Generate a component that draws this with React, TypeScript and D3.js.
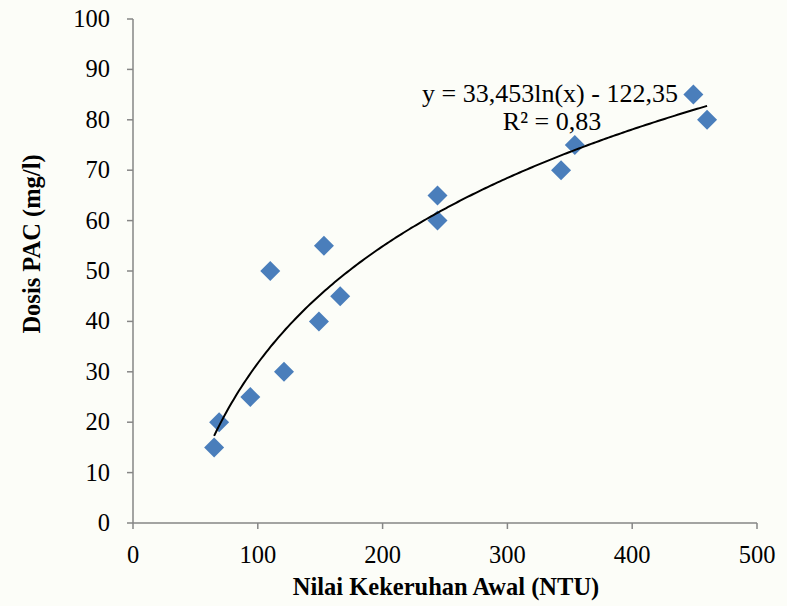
import React from "react";
import * as d3 from "d3";

const turbidity = [65, 69, 94, 121, 110, 153, 149, 166, 244, 244, 343, 354, 449, 460];
const dose = [15, 20, 25, 30, 50, 55, 40, 45, 65, 60, 70, 75, 85, 80];
const xTicks = [0, 100, 200, 300, 400, 500];
const yTicks = [0, 10, 20, 30, 40, 50, 60, 70, 80, 90, 100];
const trendA = 33.453;
const trendB = -122.35;
const equationText = "y = 33,453ln(x) - 122,35";
const r2Text = "R² = 0,83";
const xTitle = "Nilai Kekeruhan Awal (NTU)";
const yTitle = "Dosis PAC (mg/l)";

export default function App() {
  const W = 787, H = 606;
  const x = d3.scaleLinear().domain([0, 500]).range([133, 757]);
  const y = d3.scaleLinear().domain([0, 100]).range([523, 19]);
  const xMin = d3.min(turbidity) as number;
  const xMax = d3.max(turbidity) as number;
  const trendPts = d3.range(0, 201).map((i) => {
    const xv = xMin + ((xMax - xMin) * i) / 200;
    return [xv, trendA * Math.log(xv) + trendB] as [number, number];
  });
  const line = d3.line<[number, number]>().x((d) => x(d[0])).y((d) => y(d[1]));
  const diamond = (cx: number, cy: number, r: number) =>
    `M${cx},${cy - r}L${cx + r},${cy}L${cx},${cy + r}L${cx - r},${cy}Z`;
  const font = "'Liberation Serif', 'Times New Roman', serif";
  const axisColor = "#868686";
  return (
    <svg width={W} height={H} style={{ position: "absolute", left: 0, top: 0, background: "#fcfdf8" }} fontFamily={font}>
      <rect x={0} y={0} width={W} height={H} fill="#fcfdf8" />
      {/* axes */}
      <line x1={x(0)} x2={x(0)} y1={y(0)} y2={y(100)} stroke={axisColor} strokeWidth={1.5} />
      <line x1={x(0)} x2={x(500)} y1={y(0)} y2={y(0)} stroke={axisColor} strokeWidth={1.5} />
      {yTicks.map((t) => (
        <g key={"y" + t}>
          <line x1={x(0) - 6} x2={x(0)} y1={y(t)} y2={y(t)} stroke={axisColor} strokeWidth={1.5} />
          <text x={110} y={y(t) + 8} fontSize={24.5} textAnchor="end" fill="#000">{t}</text>
        </g>
      ))}
      {xTicks.map((t) => (
        <g key={"x" + t}>
          <line x1={x(t)} x2={x(t)} y1={y(0)} y2={y(0) + 6} stroke={axisColor} strokeWidth={1.5} />
          <text x={x(t)} y={563} fontSize={24.5} textAnchor="middle" fill="#000">{t}</text>
        </g>
      ))}
      {/* markers */}
      {turbidity.map((t, i) => (
        <path key={"p" + i} d={diamond(x(t), y(dose[i]), 10)} fill="#4a7ebb" />
      ))}
      {/* trendline */}
      <path d={line(trendPts) || ""} fill="none" stroke="#000" strokeWidth={2} />
      {/* equation */}
      <text x={550} y={102} fontSize={26} textAnchor="middle" fill="#000">{equationText}</text>
      <text x={552} y={130} fontSize={26} textAnchor="middle" fill="#000">{r2Text}</text>
      {/* titles */}
      <text x={446} y={595} fontSize={24.5} fontWeight="bold" textAnchor="middle" fill="#000">{xTitle}</text>
      <text transform={`translate(40,244) rotate(-90)`} fontSize={24.5} fontWeight="bold" textAnchor="middle" fill="#000">{yTitle}</text>
    </svg>
  );
}
